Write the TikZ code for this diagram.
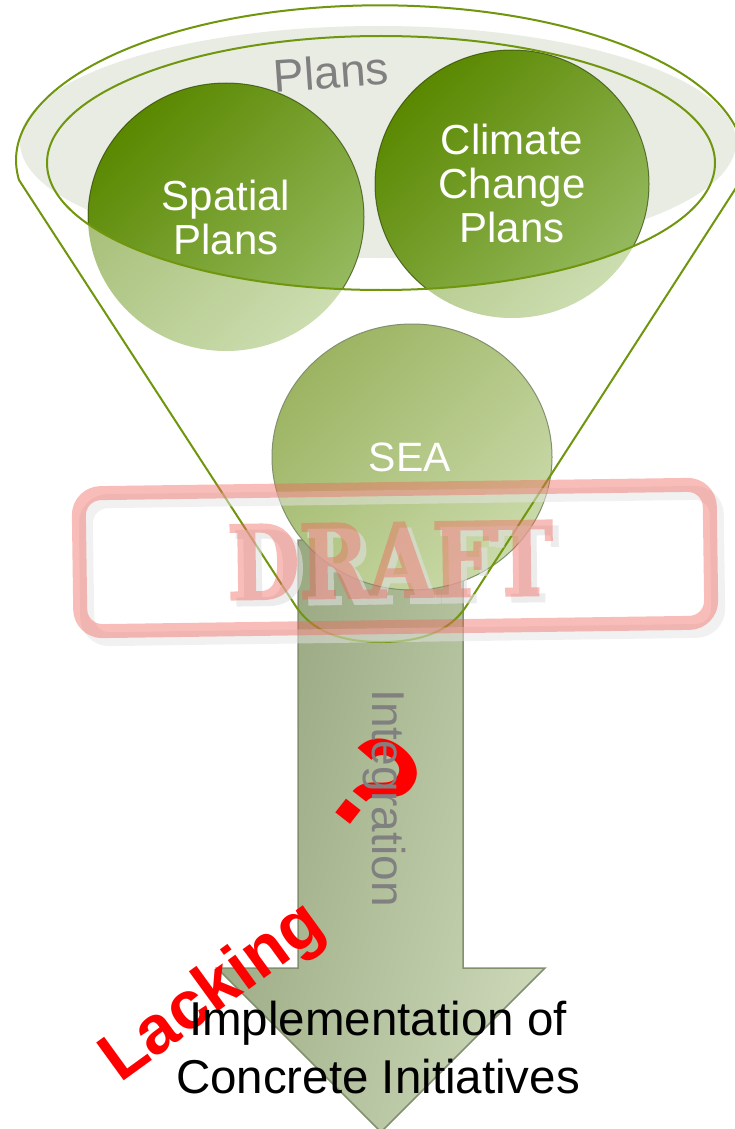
\documentclass[tikz,border=0pt]{standalone}
\usepackage{fontspec}
\setmainfont{Liberation Sans}
\newfontfamily\draftfont[BoldFeatures={FakeBold=3}]{DejaVu Serif}
\definecolor{funnelgreen}{RGB}{112,150,14}
\definecolor{planbg}{RGB}{232,236,227}
\definecolor{plangray}{RGB}{128,128,128}
\definecolor{darkA}{RGB}{90,136,0}
\definecolor{darkB}{RGB}{150,186,96}
\definecolor{lightA}{RGB}{160,186,110}
\definecolor{lightB}{RGB}{204,221,176}
\definecolor{seaA}{RGB}{156,180,98}
\definecolor{seaB}{RGB}{202,218,170}
\definecolor{arrA}{RGB}{148,164,124}
\definecolor{arrB}{RGB}{204,216,184}
\definecolor{arredge}{RGB}{130,144,110}
\definecolor{stampred}{RGB}{240,100,90}
\begin{document}
\begin{tikzpicture}[x=1pt,y=-1pt,
  every node/.style={inner sep=0pt, outer sep=0pt},
  lightcirc/.style={top color=lightA, bottom color=lightB, shading angle=45},
  darkcirc/.style={top color=darkA, bottom color=darkB, shading angle=45},
  circtxt/.style={text=white, align=center, font=\fontsize{42}{44}\selectfont},
  funnelline/.style={draw=funnelgreen, line width=2pt},
  stampframe/.style={draw=stampred, line width=14pt, rounded corners=22pt, minimum width=631pt, minimum height=138pt},
  stampshadow/.style={draw=black!10, draw opacity=0.5, line width=14pt, rounded corners=22pt, minimum width=631pt, minimum height=138pt},
  drafttxt/.style={font=\draftfont\bfseries\fontsize{101}{101}\selectfont},
]
\useasboundingbox[fill=white] (0,0) rectangle (735,1129);
% Plans background ellipse
\fill[planbg] (378,142) ellipse[x radius=358, y radius=116];
\node[text=plangray, rotate=4, font=\fontsize{46}{46}\selectfont] (plans) at (331,72) {Plans};
% circles, light lower parts
\path[lightcirc] (226,217) ellipse[x radius=138, y radius=134];
\path[lightcirc] (512,184) ellipse[x radius=137, y radius=134];
% dark upper parts
\begin{scope}
\clip (0,163) -- (47,163) arc[start angle=180, end angle=0, x radius=334, y radius=127] -- (735,163) -- (735,-10) -- (0,-10) -- cycle;
\path[darkcirc] (226,217) ellipse[x radius=138, y radius=134];
\path[darkcirc] (512,184) ellipse[x radius=137, y radius=134];
\draw[black!60!darkA, line width=1pt, opacity=0.6] (226,217) ellipse[x radius=138, y radius=134];
\draw[black!60!darkA, line width=1pt, opacity=0.6] (512,184) ellipse[x radius=137, y radius=134];
\end{scope}
\node[circtxt] (spatial) at (226,217) {Spatial\\Plans};
\node[circtxt] (climate) at (512,183) {Climate\\Change\\Plans};
% inner rim ellipse
\draw[funnelline] (381,163) ellipse[x radius=334, y radius=127];
% arrow
\path[left color=arrA, right color=arrB, shading angle=75, draw=arredge, line width=1.5pt]
  (298,540) -- (298,968) -- (217,968) -- (381,1132) -- (545,968) -- (463,968) -- (463,540) -- cycle;
% SEA circle
\path[top color=seaA, bottom color=seaB, shading angle=45, draw=arredge, line width=1pt]
  (412,457) ellipse[x radius=140, y radius=133];
\node[text=white, font=\fontsize{41}{41}\selectfont] (sea) at (410,457) {SEA};
% funnel outline
\draw[funnelline] (19,180) arc[start angle=172.7, end angle=367.3, x radius=364, y radius=155]
  -- (467,605) .. controls (450,632) and (420,642) .. (381,642)
  .. controls (342,642) and (312,632) .. (295,605) -- cycle;
% DRAFT stamp
\node[stampshadow, rotate=0.8] (stampsh) at (402,566) {};
\begin{scope}[transparency group, opacity=0.6]
\node[drafttxt, text=black!12, rotate=0.8] (draftsh) at (396,566) {\scalebox{0.82}[1]{DRAFT}};
\end{scope}
\begin{scope}[transparency group, opacity=0.42]
\node[stampframe, rotate=0.8] (stamp) at (395,558) {};
\node[drafttxt, text=stampred, rotate=0.8] (draft) at (390,560) {\scalebox{0.82}[1]{DRAFT}};
\end{scope}
% question mark
\node[text=red, rotate=-38, font=\bfseries\fontsize{132}{132}\selectfont] (q) at (374,784) {?};
% Integration
\node[text=plangray, rotate=-90, font=\fontsize{46}{46}\selectfont] (integ) at (384,798) {Integration};
% Lacking
\node[text=red, rotate=36, anchor=base, font=\bfseries\fontsize{68}{68}\selectfont] (lack) at (224,1008) {Lacking};
% Implementation
\node[align=center, font=\fontsize{47.5}{58}\selectfont] (impl) at (378,1048) {Implementation of\\Concrete Initiatives};
\end{tikzpicture}
\end{document}
